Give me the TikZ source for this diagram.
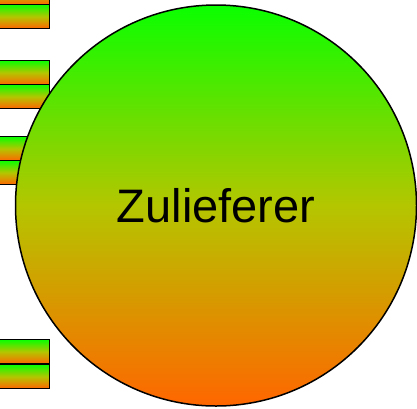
\documentclass[tikz,border=0pt]{standalone}
\usepackage{fontspec}
\setmainfont{Liberation Sans}
\definecolor{gtop}{RGB}{10,255,0}
\definecolor{gmid}{RGB}{180,198,0}
\definecolor{obot}{RGB}{255,102,0}
\tikzset{
  bar/.style={draw=black, line width=1.3pt, top color=gtop, bottom color=obot, middle color=gmid, minimum width=60pt, minimum height=24pt, inner sep=0pt, anchor=north east},
  bigcircle/.style={circle, draw=black, line width=1.5pt, top color=gtop, bottom color=obot, middle color=gmid, minimum size=401pt, inner sep=0pt, font=\fontsize{47}{50}\selectfont}
}
\begin{document}
\begin{tikzpicture}[x=1pt,y=-1pt]
\useasboundingbox (0,0) rectangle (417,408);
\node[bar] (b1) at (50,-20) {};
\node[bar] (b2) at (50,4) {};
\node[bar] (b3) at (50,60) {};
\node[bar] (b4) at (50,84) {};
\node[bar] (b5) at (50,136) {};
\node[bar] (b6) at (50,160) {};
\node[bar] (b7) at (50,339) {};
\node[bar] (b8) at (50,364) {};
\node[bigcircle] (z) at (216,205.5) {Zulieferer};
\end{tikzpicture}
\end{document}
